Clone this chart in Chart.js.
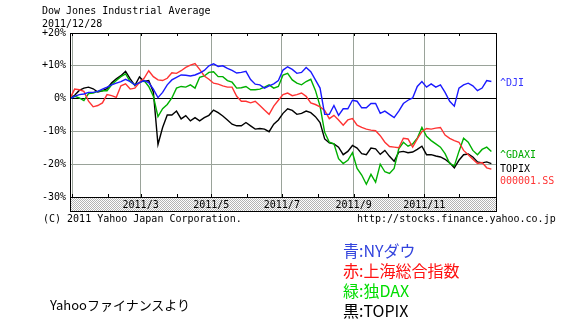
<!DOCTYPE html>
<html>
<head>
<meta charset="utf-8">
<script src="https://cdn.jsdelivr.net/npm/chart.js@4.4.0/dist/chart.umd.min.js"></script>
<style>
body{margin:0;background:#fff;}
#wrap{position:relative;width:577px;height:324px;overflow:hidden;}
#c{position:absolute;left:0;top:0;}
.m{position:absolute;font-family:"DejaVu Sans Mono",monospace;font-size:10px;line-height:10px;white-space:nowrap;color:#000;}
.j{position:absolute;font-family:"Noto Sans CJK JP",sans-serif;white-space:nowrap;}
</style>
</head>
<body>
<div id="wrap">
<canvas id="c" width="577" height="324"></canvas>
<div class="m" style="left:42px;top:6px">Dow Jones Industrial Average</div>
<div class="m" style="left:42px;top:19px">2011/12/28</div>
<div class="m" style="left:43px;top:214px">(C) 2011 Yahoo Japan Corporation.</div>
<div class="m" style="left:357px;top:214px">http://stocks.finance.yahoo.co.jp</div>
<div class="m" style="left:500px;top:78px;color:#3333ff">^DJI</div>
<div class="m" style="left:500px;top:150px;color:#00aa00">^GDAXI</div>
<div class="m" style="left:500px;top:164px;color:#000">TOPIX</div>
<div class="m" style="left:500px;top:176px;color:#ff3333">000001.SS</div>
<div class="j" style="left:50px;top:297px;font-size:13px;line-height:16px;color:#000">Yahooファイナンスより</div>
<div class="j" style="left:343px;top:240px;font-size:16px;line-height:20px">
<div style="color:#3344dd">青:NYダウ</div>
<div style="color:#ff1111">赤:上海総合指数</div>
<div style="color:#00dd00">緑:独DAX</div>
<div style="color:#000">黒:TOPIX</div>
</div>
</div>
<script>
// days counted from 2011/1/1
const days = [-2,2,6,10,14,18,22,26,30,34,38,42,46,50,54,58,62,66,70,74,78,82,86,90,94,98,102,106,110,114,118,122,126,130,134,138,142,146,150,154,158,162,166,170,174,178,182,186,190,194,198,202,206,210,214,218,222,226,230,234,238,242,246,250,254,258,262,266,270,274,278,282,286,290,294,298,302,306,310,314,318,322,326,330,334,338,342,346,350,354,358,362];

//NY dow (%)
const dji = [0,0.7,1.2,1.4,1.9,1.9,2.2,2.9,3.5,4.2,4.7,5.2,5.9,5.2,4.2,4.9,5.5,4.9,2.9,0.3,1.9,4.2,5.7,6.5,7.2,7.1,6.9,7.2,7.8,8.6,10.0,10.6,9.8,10.0,9.2,8.6,7.8,8.0,8.3,5.8,4.4,4.2,3.2,3.9,4.5,5.5,8.7,9.7,8.9,7.7,8.0,9.5,8.2,5.7,3.2,-4.8,-4.8,-2.1,-5.1,-3.1,-3.1,-0.5,-0.8,-2.8,-2.8,-1.5,-1.5,-4.5,-3.8,-4.8,-5.8,-3.8,-1.5,-0.5,0.2,3.7,5.2,3.5,4.5,3.5,4.2,1.9,-0.8,-2.3,3.2,4.2,4.7,3.9,2.4,3.2,5.5,5.2];

//shanghai composite
const sse = [0,2.9,2.7,2.2,-0.8,-2.5,-2.1,-1.3,1.2,0.9,0.4,3.9,4.5,2.9,3.2,4.9,6.2,8.5,6.7,5.7,5.5,6.2,7.9,7.7,8.5,9.5,10.2,10.7,8.9,6.9,5.9,4.7,4.4,3.9,3.5,3.5,0.7,-0.8,-0.8,-1.3,-0.8,-2.1,-3.5,-4.8,-2.3,-0.5,1.2,1.7,0.9,1.2,1.7,0.7,-1.3,-1.8,-2.5,-3.6,-6.1,-5.1,-6.5,-8.1,-6.5,-6.1,-8.1,-8.8,-9.3,-9.6,-9.8,-11.3,-13.3,-14.6,-14.8,-15.0,-12.1,-12.3,-14.8,-12.3,-10.1,-9.1,-9.3,-9.0,-8.8,-11.1,-12.1,-12.8,-13.3,-15.8,-17.1,-18.5,-19.8,-19.5,-21.1,-21.5];

//DAX
const dax = [0,0.7,0.2,-0.6,1.5,1.7,2.2,2.4,2.4,4.2,5.5,6.7,7.5,5.2,4.2,4.9,5.5,3.7,0.7,-5.5,-3.1,-1.8,0.2,3.2,3.7,3.5,4.2,3.2,6.5,6.9,8.0,8.2,6.7,6.7,5.5,5.0,3.2,3.3,3.7,2.7,2.7,2.9,3.5,4.2,3.2,3.7,7.2,7.7,5.7,4.7,4.2,5.2,5.9,2.5,-2.3,-10.3,-13.3,-13.8,-18.3,-19.8,-18.8,-16.5,-21.3,-23.3,-26.1,-23.1,-25.5,-20.0,-22.3,-22.8,-21.3,-15.3,-13.3,-14.5,-13.8,-12.1,-8.8,-11.5,-12.8,-13.8,-14.8,-16.8,-19.8,-20.5,-16.1,-12.1,-13.3,-15.8,-17.1,-15.5,-14.8,-16.1];

//TOPIX
const topix = [0,1.0,2.5,3.2,3.5,3.0,2.0,2.4,3.0,4.8,6.0,7.0,8.3,6.0,4.0,6.6,5.2,5.5,2.0,-14.0,-8.8,-5.0,-5.0,-3.8,-6.2,-5.2,-6.8,-5.8,-6.8,-5.8,-5.1,-3.5,-4.3,-5.3,-6.5,-7.8,-8.3,-8.3,-7.3,-8.3,-9.3,-9.1,-9.3,-10.1,-7.8,-6.5,-4.5,-3.1,-3.6,-4.8,-4.5,-3.8,-4.3,-5.5,-7.3,-12.3,-13.5,-13.8,-14.8,-17.1,-16.1,-14.3,-15.1,-16.8,-17.1,-15.1,-15.3,-17.0,-15.8,-17.6,-19.1,-16.3,-16.1,-16.5,-16.3,-15.5,-14.5,-17.1,-17.1,-17.5,-17.8,-18.5,-19.6,-21.1,-18.8,-17.1,-16.9,-17.8,-19.3,-19.6,-19.3,-19.8];

const monthDays = [0,31,59,90,120,151,181,212,243,273,304,334];
const monthLabels = ['','','2011/3','','2011/5','','2011/7','','2011/9','','2011/11',''];
const yTicks = [-30,-20,-10,0,10,20];

function pts(arr){
    return days.map(function(d, i){ return {x: d, y: arr[i]}; });
}

const frame = {
    id: 'frame',
    beforeDraw: function(chart){
        const ctx = chart.ctx, a = chart.chartArea;
        const p = document.createElement('canvas');
        p.width = 2; p.height = 2;
        const pc = p.getContext('2d');
        pc.fillStyle = '#fff'; pc.fillRect(0,0,2,2);
        pc.fillStyle = '#b4b4b4'; pc.fillRect(0,0,1,1); pc.fillRect(1,1,1,1);
        ctx.save();
        ctx.fillStyle = ctx.createPattern(p, 'repeat');
        ctx.fillRect(a.left, a.bottom, a.right - a.left, 14);
        ctx.restore();
    },
    afterDraw: function(chart){
        const ctx = chart.ctx, a = chart.chartArea, sx = chart.scales.x;
        ctx.save();
        ctx.strokeStyle = '#000';
        ctx.lineWidth = 1;
        ctx.strokeRect(a.left + 0.5, a.top + 0.5, a.right - a.left, a.bottom + 14 - a.top);
        ctx.beginPath();
        ctx.moveTo(a.left, a.bottom + 0.5);
        ctx.lineTo(a.right, a.bottom + 0.5);
        monthDays.forEach(function(d){
            const x = Math.round(sx.getPixelForValue(d)) + 0.5;
            ctx.moveTo(x, a.top); ctx.lineTo(x, a.top + 3);
            ctx.moveTo(x, a.bottom); ctx.lineTo(x, a.bottom - 3);
        });
        ctx.stroke();
        ctx.restore();
    }
};

const mono = {family: 'DejaVu Sans Mono', size: 10};
const ln = {pointRadius: 0, borderWidth: 1.4, tension: 0, fill: false};

new Chart(document.getElementById('c').getContext('2d'), {
    type: 'line',
    data: {
        datasets: [
            Object.assign({label: '^DJI', data: pts(dji), borderColor: '#1a1aff'}, ln),
            Object.assign({label: '000001.SS', data: pts(sse), borderColor: '#ff3333'}, ln),
            Object.assign({label: '^GDAXI', data: pts(dax), borderColor: '#00b000'}, ln),
            Object.assign({label: 'TOPIX', data: pts(topix), borderColor: '#000000'}, ln)
        ]
    },
    options: {
        responsive: false,
        animation: false,
        devicePixelRatio: 1,
        layout: {padding: {left: 0, top: 33, right: 81, bottom: 113}},
        plugins: {legend: {display: false}, tooltip: {enabled: false}},
        scales: {
            x: {
                type: 'linear', min: -2, max: 366,
                afterBuildTicks: function(s){ s.ticks = monthDays.map(function(v){ return {value: v}; }); },
                afterFit: function(s){ s.height = 14; },
                ticks: {autoSkip: false, maxRotation: 0, padding: 2, font: mono, color: '#000',
                    callback: function(v, i){ return monthLabels[i]; }},
                grid: {drawTicks: false, color: function(c){ return c.index % 2 === 0 ? '#9aa39a' : 'rgba(0,0,0,0)'; }},
                border: {display: false}
            },
            y: {
                min: -30, max: 20,
                afterBuildTicks: function(s){ s.ticks = yTicks.map(function(v){ return {value: v}; }); },
                afterFit: function(s){ s.width = 70; },
                ticks: {padding: 4, font: mono, color: '#000',
                    callback: function(v){ return (v > 0 ? '+' : '') + v + '%'; }},
                grid: {drawTicks: false, color: function(c){ return c.tick && c.tick.value === 0 ? '#000' : '#9aa39a'; }},
                border: {display: false}
            }
        }
    },
    plugins: [frame]
});
</script>
</body>
</html>
